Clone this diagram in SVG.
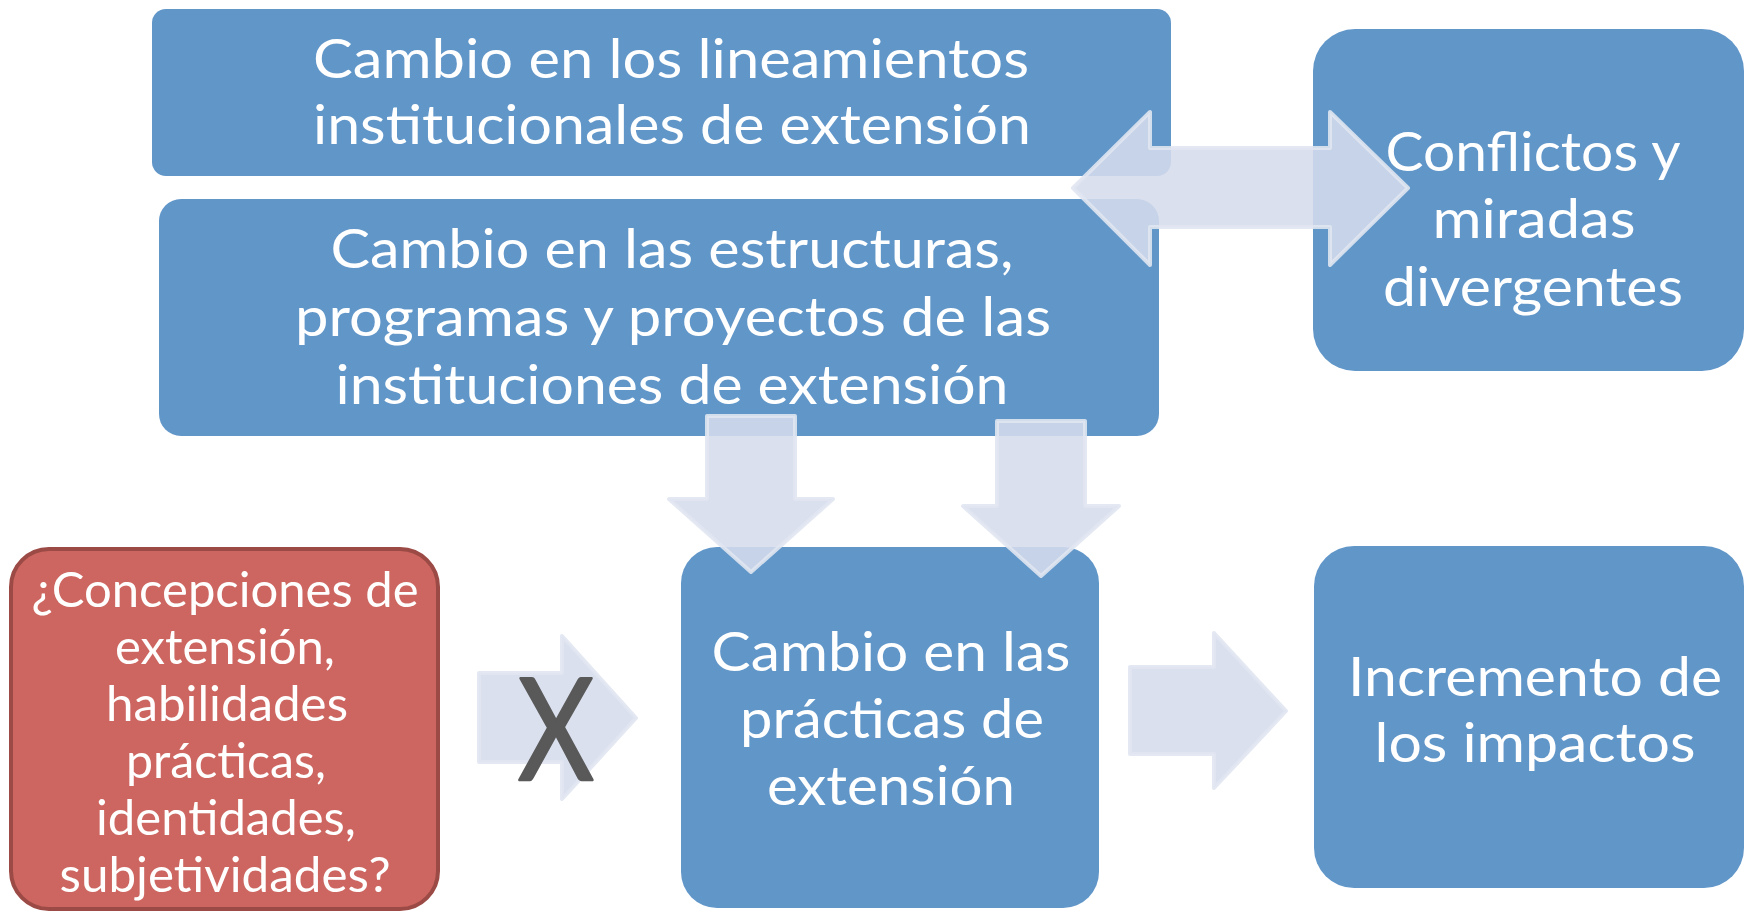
<svg xmlns="http://www.w3.org/2000/svg" width="1744" height="911" viewBox="0 0 1744 911">
<style>
.box{fill:#6196c9}
.red{fill:#cd6660;stroke:#9c4a45;stroke-width:4}
.t{font-family:Lato,"Liberation Sans",sans-serif;fill:#ffffff;text-anchor:middle}
.big{font-size:55px}
.sm{font-size:49px}
.arr{fill:#d5dcec;fill-opacity:0.88;stroke:#e0e5f1;stroke-opacity:0.9;stroke-width:4;stroke-linejoin:round}
.x{font-family:Lato,"Liberation Sans",sans-serif;font-size:142px;fill:#595959;stroke:#595959;stroke-width:2.5;stroke-linejoin:round;text-anchor:middle}
</style>
<rect width="1744" height="911" fill="#ffffff"/>
<g id="n-lineamientos">
<rect class="box" x="152" y="9" width="1019" height="167" rx="14"/>
<text class="t big" x="671" y="78" textLength="716" lengthAdjust="spacingAndGlyphs">Cambio en los lineamientos</text>
<text class="t big" x="672" y="144" textLength="718" lengthAdjust="spacingAndGlyphs">institucionales de extensión</text>
</g>
<g id="n-estructuras">
<rect class="box" x="159" y="199" width="1000" height="237" rx="22"/>
<text class="t big" x="672" y="268" textLength="683" lengthAdjust="spacingAndGlyphs">Cambio en las estructuras,</text>
<text class="t big" x="673" y="336" textLength="756" lengthAdjust="spacingAndGlyphs">programas y proyectos de las</text>
<text class="t big" x="672" y="404" textLength="673" lengthAdjust="spacingAndGlyphs">instituciones de extensión</text>
</g>
<g id="n-conflictos">
<rect class="box" x="1313" y="29" width="431" height="342" rx="42"/>
<text class="t big" x="1533" y="171" textLength="295" lengthAdjust="spacingAndGlyphs">Conflictos y</text>
<text class="t big" x="1534" y="238" textLength="203" lengthAdjust="spacingAndGlyphs">miradas</text>
<text class="t big" x="1533" y="306" textLength="300" lengthAdjust="spacingAndGlyphs">divergentes</text>
</g>
<g id="n-concepciones">
<rect class="red" x="11" y="549" width="427" height="360" rx="38"/>
<text class="t sm" x="225" y="607" textLength="387" lengthAdjust="spacingAndGlyphs">¿Concepciones de</text>
<text class="t sm" x="225" y="664" textLength="220" lengthAdjust="spacingAndGlyphs">extensión,</text>
<text class="t sm" x="227" y="721" textLength="242" lengthAdjust="spacingAndGlyphs">habilidades</text>
<text class="t sm" x="226" y="778" textLength="200" lengthAdjust="spacingAndGlyphs">prácticas,</text>
<text class="t sm" x="226" y="835" textLength="260" lengthAdjust="spacingAndGlyphs">identidades,</text>
<text class="t sm" x="225" y="892" textLength="331" lengthAdjust="spacingAndGlyphs">subjetividades?</text>
</g>
<g id="n-practicas">
<rect class="box" x="681" y="547" width="418" height="361" rx="36"/>
<text class="t big" x="891" y="671" textLength="359" lengthAdjust="spacingAndGlyphs">Cambio en las</text>
<text class="t big" x="892" y="738" textLength="304" lengthAdjust="spacingAndGlyphs">prácticas de</text>
<text class="t big" x="891" y="805" textLength="248" lengthAdjust="spacingAndGlyphs">extensión</text>
</g>
<g id="n-impactos">
<rect class="box" x="1314" y="546" width="430" height="342" rx="40"/>
<text class="t big" x="1535" y="696" textLength="374" lengthAdjust="spacingAndGlyphs">Incremento de</text>
<text class="t big" x="1535" y="762" textLength="321" lengthAdjust="spacingAndGlyphs">los impactos</text>
</g>
<g id="connectors">
<polygon class="arr" points="1073,188 1150,112 1150,148 1330,148 1330,112 1408,188 1330,265 1330,227 1150,227 1150,265"/>
<polygon class="arr" points="707,416 795,416 795,499 833,499 751,572 669,499 707,499"/>
<polygon class="arr" points="997,421 1085,421 1085,506 1119,506 1041,576 963,506 997,506"/>
<polygon class="arr" points="479,673 562,673 562,636 636,718 562,799 562,762 479,762"/>
<polygon class="arr" points="1130,667 1214,667 1214,633 1286,711 1214,788 1214,754 1130,754"/>
<text class="x" x="556" y="780" textLength="76" lengthAdjust="spacingAndGlyphs">X</text>
</g>
</svg>
